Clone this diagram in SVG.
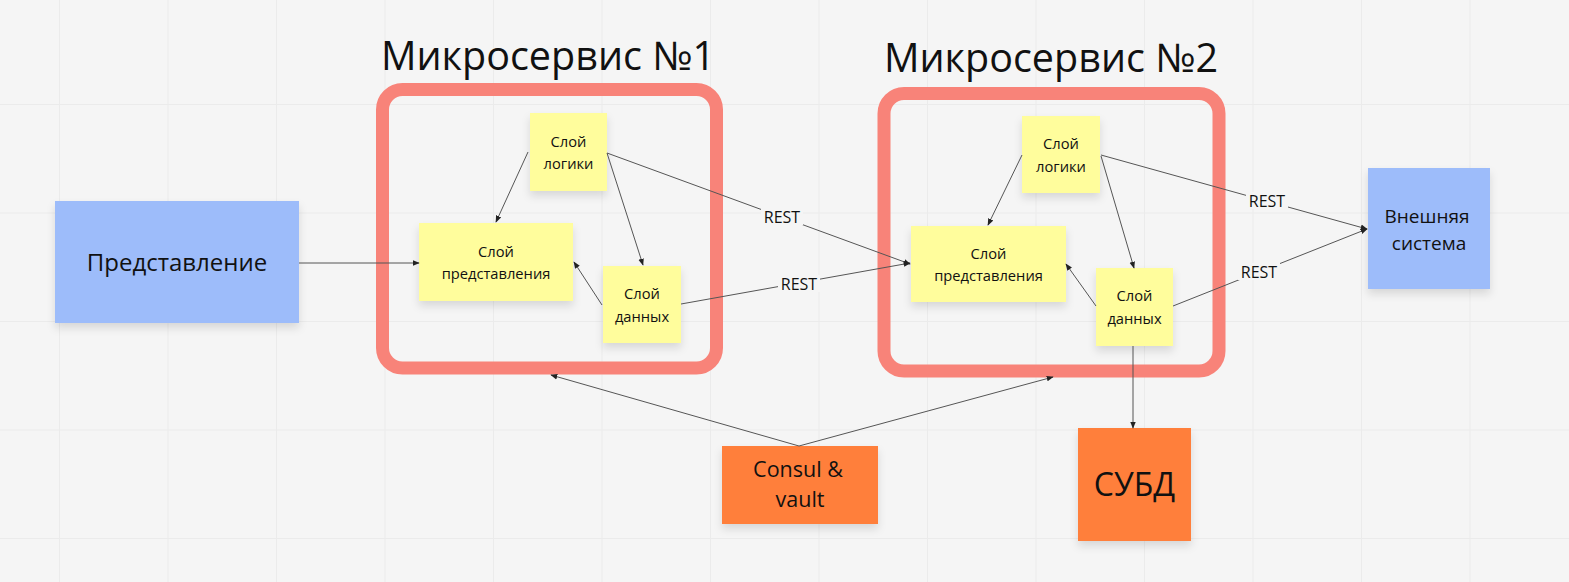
<svg xmlns="http://www.w3.org/2000/svg" width="1569" height="582" viewBox="0 0 1569 582">
<defs>
<marker id="ah" viewBox="0 0 10 10" refX="9" refY="5" markerWidth="7" markerHeight="7" markerUnits="userSpaceOnUse" orient="auto">
<path d="M0,1 L10,5 L0,9 Z" fill="#222"/>
</marker>
<filter id="sh" x="-20%" y="-20%" width="140%" height="150%">
<feDropShadow dx="0" dy="5" stdDeviation="4" flood-color="#000" flood-opacity="0.12"/>
</filter>
<pattern id="grid" x="59" y="104" width="108.5" height="108.5" patternUnits="userSpaceOnUse">
<path d="M0,0 V108.5 M0,0 H108.5" stroke="#ebebeb" stroke-width="2" fill="none"/>
</pattern>
</defs>
<style>
text{font-family:"Open Sans","Noto Sans","Liberation Sans",sans-serif;fill:#111;text-anchor:middle}
.frame{fill:none;stroke:#f88379;stroke-width:13}
.sticky{fill:#fffd9c;filter:url(#sh)}
.blue{fill:#9dbcfa;filter:url(#sh)}
.orange{fill:#ff7f3a;filter:url(#sh)}
.t14{font-size:14.7px}
.t16{font-size:19px}
.title{font-size:39.5px}
.conn line,.conn path{stroke:#555;stroke-width:1;fill:none;marker-end:url(#ah)}
.lbl{font-size:16px}
.lblbg{fill:#f5f5f5}
</style>
<rect width="1569" height="582" fill="#f5f5f5"/>
<rect width="1569" height="582" fill="url(#grid)"/>

<g id="ms1">
<text class="title" x="548" y="70">Микросервис №1</text>
<rect class="frame" x="382.5" y="89.5" width="334" height="278.5" rx="20"/>
</g>
<g id="ms2">
<text class="title" x="1051" y="72">Микросервис №2</text>
<rect class="frame" x="884" y="93.5" width="335" height="277.5" rx="20"/>
</g>

<g id="presentation">
<rect class="blue" x="55" y="201" width="244" height="122"/>
<text x="177" y="271" style="font-size:24px">Представление</text>
</g>
<g id="logic1">
<rect class="sticky" x="530" y="113" width="77" height="78"/>
<text class="t14" x="568.5" y="147">Слой</text>
<text class="t14" x="568.5" y="169">логики</text>
</g>
<g id="pres1">
<rect class="sticky" x="419" y="223" width="154" height="78"/>
<text class="t14" x="496" y="257">Слой</text>
<text class="t14" x="496" y="279">представления</text>
</g>
<g id="data1">
<rect class="sticky" x="603" y="266" width="78" height="77"/>
<text class="t14" x="642" y="299">Слой</text>
<text class="t14" x="642" y="322">данных</text>
</g>
<g id="logic2">
<rect class="sticky" x="1022" y="116" width="78" height="77"/>
<text class="t14" x="1061" y="149">Слой</text>
<text class="t14" x="1061" y="172">логики</text>
</g>
<g id="pres2">
<rect class="sticky" x="911" y="226" width="155" height="76"/>
<text class="t14" x="988.5" y="259">Слой</text>
<text class="t14" x="988.5" y="281">представления</text>
</g>
<g id="data2">
<rect class="sticky" x="1096" y="268" width="77" height="78"/>
<text class="t14" x="1134.5" y="301">Слой</text>
<text class="t14" x="1134.5" y="324">данных</text>
</g>
<g id="external">
<rect class="blue" x="1368" y="168" width="122" height="121"/>
<text class="t16" x="1427" y="223">Внешняя</text>
<text class="t16" x="1429" y="250">система</text>
</g>
<g id="consul">
<rect class="orange" x="722" y="446" width="156" height="78"/>
<text x="798" y="477" style="font-size:21.5px">Consul &amp;</text>
<text x="800" y="507" style="font-size:21.5px">vault</text>
</g>
<g id="dbms">
<rect class="orange" x="1078" y="428" width="113" height="113"/>
<text x="1134.5" y="496" style="font-size:32px">СУБД</text>
</g>

<g id="connectors" class="conn">
<line x1="299" y1="263" x2="419" y2="263"/>
<line x1="528" y1="152" x2="496" y2="222"/>
<line x1="607" y1="153" x2="643" y2="265"/>
<line x1="602" y1="305" x2="574" y2="262"/>
<line x1="607" y1="153" x2="910" y2="264"/>
<line x1="681" y1="304" x2="910" y2="263"/>
<line x1="1022" y1="155" x2="988" y2="225"/>
<line x1="1101" y1="156" x2="1134" y2="268"/>
<line x1="1096" y1="306" x2="1066" y2="264"/>
<line x1="1101" y1="155" x2="1367" y2="229"/>
<line x1="1173" y1="306" x2="1367" y2="229"/>
<line x1="1133" y1="346" x2="1133" y2="428"/>
<line x1="799" y1="446" x2="551" y2="375"/>
<line x1="799" y1="446" x2="1053" y2="377"/>
<rect class="lblbg" x="761" y="208" width="42" height="17"/>
<text class="lbl" x="782" y="223">REST</text>
<rect class="lblbg" x="778" y="275" width="42" height="17"/>
<text class="lbl" x="799" y="290">REST</text>
<rect class="lblbg" x="1246" y="192" width="42" height="17"/>
<text class="lbl" x="1267" y="207">REST</text>
<rect class="lblbg" x="1238" y="263" width="42" height="17"/>
<text class="lbl" x="1259" y="278">REST</text>
</g>
</svg>
